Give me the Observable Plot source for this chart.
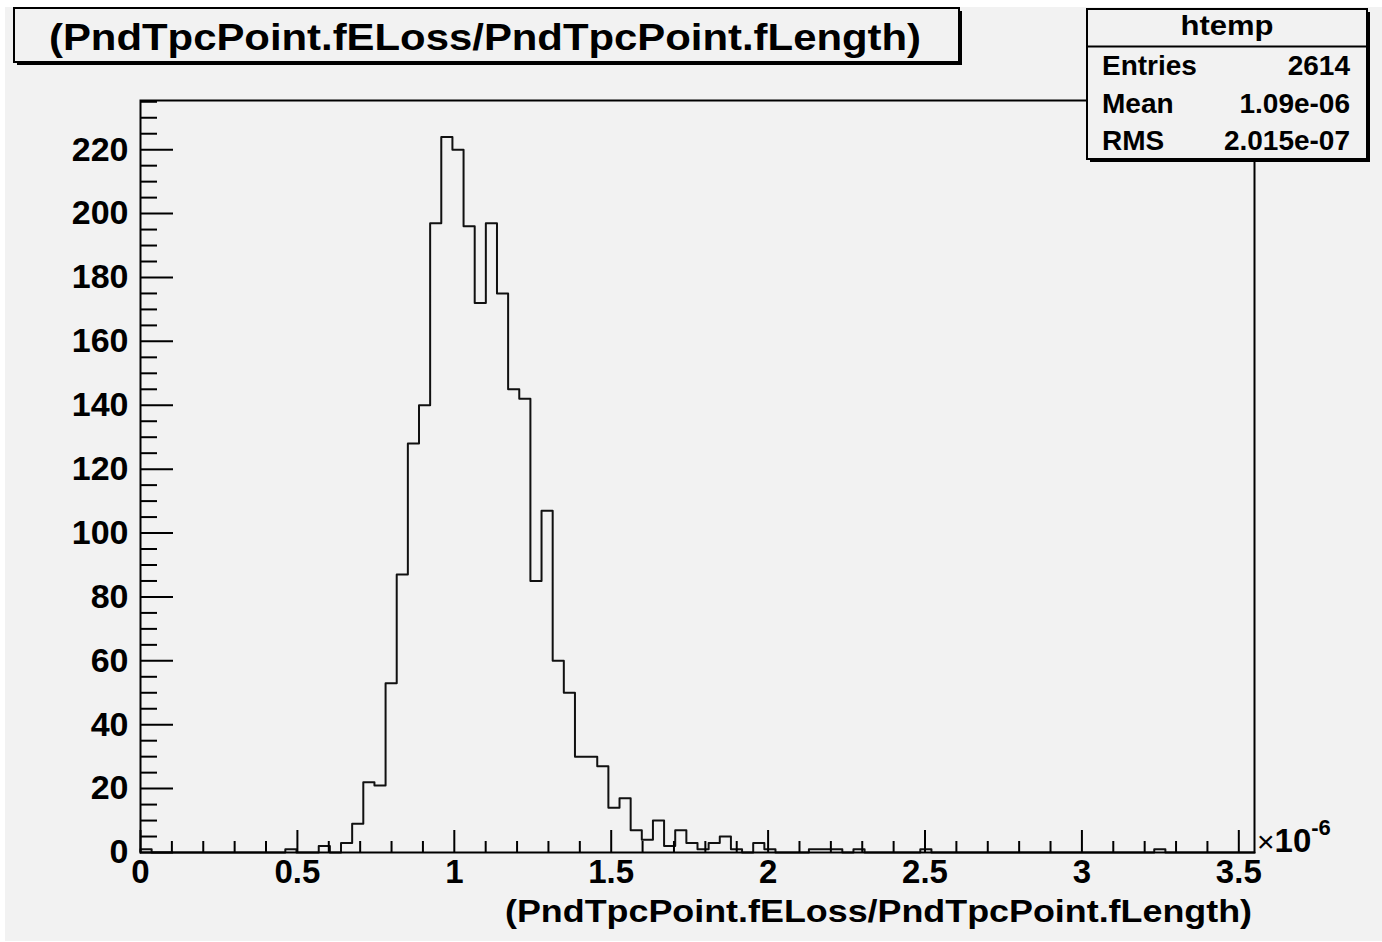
<!DOCTYPE html>
<html><head><meta charset="utf-8">
<script src="https://cdn.jsdelivr.net/npm/d3@7"></script>
<script src="https://cdn.jsdelivr.net/npm/@observablehq/plot@0.6"></script>
<style>
html,body{margin:0;padding:0;background:#fff;width:1382px;height:942px;overflow:hidden;}
#bg{position:absolute;left:5px;top:7px;width:1377px;height:934px;background:#f2f2f2;}
#chart{position:absolute;left:0;top:0;}
</style></head><body><div id="bg"></div><div id="chart"></div>
<script>
// x values in units of 1e-6
const xMin = 0, xMax = 3.55, nBins = 100;
const counts = [
  1,0,0,0,0,0,0,0,0,0,
  0,0,0,1,0,0,2,0,3,9,
  22,21,53,87,128,140,197,224,220,196,
  172,197,175,145,142,85,107,60,50,30,
  30,27,14,17,7,4,10,2,7,3,
  1,3,5,1,0,3,1,0,0,0,
  1,1,1,0,1,0,0,0,0,0,
  1,0,0,0,0,0,0,0,0,0,
  0,0,0,0,0,0,0,0,0,0,
  0,1,0,0,0,0,0,0,0,0
];
const yMax = 235.4;
const xMajorTicks = [0, 0.5, 1, 1.5, 2, 2.5, 3, 3.5];
const xMinorTicks = [0.1,0.2,0.3,0.4,0.6,0.7,0.8,0.9,1.1,1.2,1.3,1.4,1.6,1.7,1.8,1.9,2.1,2.2,2.3,2.4,2.6,2.7,2.8,2.9,3.1,3.2,3.3,3.4];
const yMajorTicks = [0,20,40,60,80,100,120,140,160,180,200,220];
const yMinorTicks = [5,10,15,25,30,35,45,50,55,65,70,75,85,90,95,105,110,115,125,130,135,145,150,155,165,170,175,185,190,195,205,210,215,225,230,235];
const titleText = "(PndTpcPoint.fELoss/PndTpcPoint.fLength)";
const xAxisTitle = "(PndTpcPoint.fELoss/PndTpcPoint.fLength)";
const exponentBase = "10", exponentPower = "-6";
const statsName = "htemp";
const statsLabels = ["Entries", "Mean", "RMS"];
const statsValues = ["2614", "1.09e-06", "2.015e-07"];

const W = 1382, H = 942, mL = 140, mR = 128, mT = 100, mB = 90;
const plotW = W - mL - mR, plotH = H - mT - mB;
const bw = (xMax - xMin) / nBins;
const steps = [{x: xMin, y: 0}]
  .concat(counts.map((c, i) => ({x: xMin + i * bw, y: c})))
  .concat([{x: xMax, y: 0}]);

const font = "'Liberation Sans', Arial, Helvetica, sans-serif";
const plot = Plot.plot({
  width: W, height: H,
  marginLeft: mL, marginRight: mR, marginTop: mT, marginBottom: mB,
  style: {background: "transparent", fontFamily: font, fontWeight: "bold", fontSize: "34px", color: "#000", overflow: "visible"},
  x: {domain: [xMin, xMax]},
  y: {domain: [0, yMax]},
  marks: [
    Plot.line(steps, {x: "x", y: "y", curve: "step-after", stroke: "#111", strokeWidth: 2}),
    Plot.tickY(yMajorTicks, {y: d => d, insetRight: plotW - 33, stroke: "#000", strokeWidth: 2}),
    Plot.tickY(yMinorTicks, {y: d => d, insetRight: plotW - 17, stroke: "#000", strokeWidth: 2}),
    Plot.tickX(xMajorTicks, {x: d => d, insetTop: plotH - 22, stroke: "#000", strokeWidth: 2}),
    Plot.tickX(xMinorTicks, {x: d => d, insetTop: plotH - 11, stroke: "#000", strokeWidth: 2}),
    Plot.axisY({ticks: yMajorTicks, tickSize: 0, tickPadding: 12, label: null, fontSize: 34, fontWeight: "bold"}),
    Plot.axisX({ticks: xMajorTicks, tickSize: 0, tickPadding: 7, label: null, fontSize: 33, fontWeight: "bold", tickFormat: d => String(d)}),
    Plot.frame({stroke: "#000", strokeWidth: 2})
  ]
});
document.getElementById("chart").appendChild(plot);

const svg = d3.select(plot);
function txt(x, y, anchor, size, s) {
  return svg.append("text").attr("x", x).attr("y", y).attr("text-anchor", anchor)
    .attr("font-family", font).attr("font-weight", "bold").attr("font-size", size).text(s);
}
// title box
svg.append("rect").attr("x", 17).attr("y", 11).attr("width", 945).attr("height", 54).attr("fill", "#000");
svg.append("rect").attr("x", 14).attr("y", 8).attr("width", 945).attr("height", 54)
  .attr("fill", "#f2f2f2").attr("stroke", "#000").attr("stroke-width", 2);
txt(485, 50, "middle", 37, titleText).attr("textLength", 872).attr("lengthAdjust", "spacingAndGlyphs");

// stats box
const sx = 1087, sy = 9, sw = 280, sh = 150;
svg.append("rect").attr("x", sx + 3).attr("y", sy + 3).attr("width", sw).attr("height", sh).attr("fill", "#000");
svg.append("rect").attr("x", sx).attr("y", sy).attr("width", sw).attr("height", sh)
  .attr("fill", "#f2f2f2").attr("stroke", "#000").attr("stroke-width", 2);
svg.append("line").attr("x1", sx).attr("x2", sx + sw).attr("y1", 46.5).attr("y2", 46.5).attr("stroke", "#000").attr("stroke-width", 2);
txt(1227, 35, "middle", 28, statsName).attr("textLength", 93).attr("lengthAdjust", "spacingAndGlyphs");
const rowY = [75, 112.5, 150];
statsLabels.forEach((lab, i) => {
  txt(1102, rowY[i], "start", 28, lab);
  txt(1350, rowY[i], "end", 28, statsValues[i]);
});

// exponent label
const ex = svg.append("text").attr("x", 1257).attr("y", 852).attr("text-anchor", "start")
  .attr("font-family", font).attr("font-weight", "bold").attr("font-size", 33);
ex.append("tspan").attr("font-weight", "normal").attr("font-size", 30).text("×");
ex.append("tspan").text(exponentBase);
ex.append("tspan").attr("font-size", 22).attr("dy", -17).text(exponentPower);

// x axis title
txt(1252, 922, "end", 31, xAxisTitle).attr("textLength", 747).attr("lengthAdjust", "spacingAndGlyphs");
</script></body></html>
